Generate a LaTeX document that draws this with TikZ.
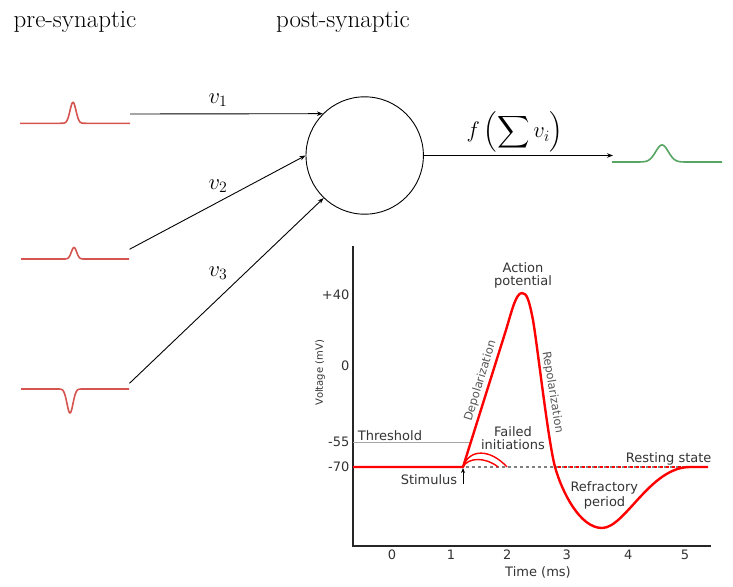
\documentclass[tikz,border=0pt]{standalone}
\usepackage{fix-cm}
\usepackage{exscale}
\usepackage{fontspec}
\newfontfamily\gfont{DejaVu Sans}
\usetikzlibrary{arrows.meta}
\DeclareFontShape{OMX}{cmex}{m}{n}{<->cmex10}{}
\definecolor{spkred}{RGB}{214,84,80}
\definecolor{spkgreen}{RGB}{88,164,98}
\definecolor{apred}{RGB}{255,0,0}
\definecolor{txt}{RGB}{51,51,51}
\definecolor{txtlight}{RGB}{85,85,85}
\begin{document}
\begin{tikzpicture}[x=1pt,y=-1pt,
  lm/.style={font=\fontsize{22.5}{27}\selectfont},
  ttl/.style={font=\fontsize{25}{30}\selectfont},
  spk/.style={draw=spkred,line width=1.6pt},
  spkg/.style={draw=spkgreen,line width=1.6pt},
  arr/.style={line width=0.9pt,-{Stealth[length=6pt,width=4.5pt]}},
  ap/.style={draw=apred,line width=2.4pt,line join=round},
  apthin/.style={draw=apred,line width=1.4pt},
  gl/.style={font=\fontsize{13}{15}\gfont,text=txt,inner sep=0pt},
  glr/.style={font=\fontsize{11.5}{13}\gfont,text=txtlight,inner sep=0pt},
  axisline/.style={draw=black!85,line width=1.6pt}
]
\useasboundingbox (0,0) rectangle (733,586);

% titles
\node[ttl,anchor=base] (pre) at (75,28) {pre-synaptic};
\node[ttl,anchor=base] (post) at (343,28) {post-synaptic};

% input spikes
\draw[spk] (20,123.3) -- plot[domain=60:86,samples=60] (\x,{123.3-21*exp(-((\x-73)^2)/18)}) -- (130,123.3);
\draw[spk] (21,259) -- plot[domain=61:87,samples=60] (\x,{259-11.5*exp(-((\x-74)^2)/14)}) -- (129,259);
\draw[spk] (21,389) -- plot[domain=57:83,samples=60] (\x,{389+24*exp(-((\x-70)^2)/18)}) -- (129,389);

% output spike
\draw[spkg] (612,162) -- plot[domain=632:692,samples=80] (\x,{162-17*exp(-((\x-662)^2)/80)}) -- (722,162);

% neuron
\node[circle,draw,line width=0.9pt,minimum size=117.4pt,inner sep=0pt] (neuron) at (364.7,155.5) {};

\coordinate (a1) at (130,114);
\coordinate (a2) at (129.5,249.3);
\coordinate (a3) at (129.5,383.3);
\coordinate (out) at (613,155.5);

\draw[arr] (a1) -- (neuron.135);
\draw[arr] (a2) -- (neuron.180);
\draw[arr] (a3) -- (neuron.226);
\draw[arr] (neuron.east) -- (out);

\node[lm] (v1) at (218,100) {$v_1$};
\node[lm] (v2) at (218,186) {$v_2$};
\node[lm] (v3) at (218,273) {$v_3$};
\node[lm] (flab) at (515,132) {$\displaystyle f\left(\sum v_i\right)$};

% action potential graph
\draw[axisline] (353,246) -- (353,546) -- (711,546);

\draw[draw=gray!70,line width=0.7pt] (353,442) -- (471,442);

\draw[draw=gray,line width=1.3pt,dash pattern=on 3pt off 3pt] (466,467) -- (700,467);
\draw[draw=apred,line width=1.3pt,dash pattern=on 3pt off 3pt,dash phase=3pt] (555,467) -- (686,467);

\draw[apthin] (463,467) .. controls (469,448.5) and (490,448.5) .. (507,467);
\draw[apthin] (463,467) .. controls (468,457) and (486,457) .. (498,467);

\draw[ap] (353,467) -- (463,467) -- (506,330)
  .. controls (512,310) and (516,293) .. (522,293)
  .. controls (527,293) and (529,300) .. (533,320)
  .. controls (538,350) and (548,440) .. (555,467)
  .. controls (562,492) and (580,528) .. (602,528)
  .. controls (625,528) and (650,467) .. (690,467) -- (708,467);

\coordinate (sb) at (463,484);
\coordinate (st) at (463,468);
\draw[line width=0.9pt,-{Stealth[length=5pt,width=4pt]}] (sb) -- (st);

% tick labels
\node[gl,anchor=east] (t40) at (349.5,295) {+40};
\node[gl,anchor=east] (t0) at (349.5,366) {0};
\node[gl,anchor=east] (t55) at (349.5,442) {-55};
\node[gl,anchor=east] (t70) at (349.5,467) {-70};
\node[gl] (x0) at (392,555) {0};
\node[gl] (x1) at (451,555) {1};
\node[gl] (x2) at (507.3,555) {2};
\node[gl] (x3) at (566.7,555) {3};
\node[gl] (x4) at (628.3,555) {4};
\node[gl] (x5) at (685,555) {5};
\node[gl] (xl) at (538,572) {Time (ms)};
\node[gl,font=\fontsize{10}{12}\gfont,rotate=90] (yl) at (320,372.5) {Voltage (mV)};

% annotations
\node[gl] (ap1) at (523,268) {Action};
\node[gl] (ap2) at (523,282) {potential};
\node[glr,rotate=73] (dep) at (480.5,381) {Depolarization};
\node[glr,rotate=-80.7] (rep) at (552.5,392.3) {Repolarization};
\node[gl] (thr) at (390,436) {Threshold};
\node[gl] (stim) at (429,480) {Stimulus};
\node[gl] (fi1) at (513,431.3) {Failed};
\node[gl] (fi2) at (513,445) {initiations};
\node[gl] (rest) at (668.7,459) {Resting state};
\node[gl] (rf1) at (604.3,488.3) {Refractory};
\node[gl] (rf2) at (604.5,502.7) {period};
\end{tikzpicture}
\end{document}
